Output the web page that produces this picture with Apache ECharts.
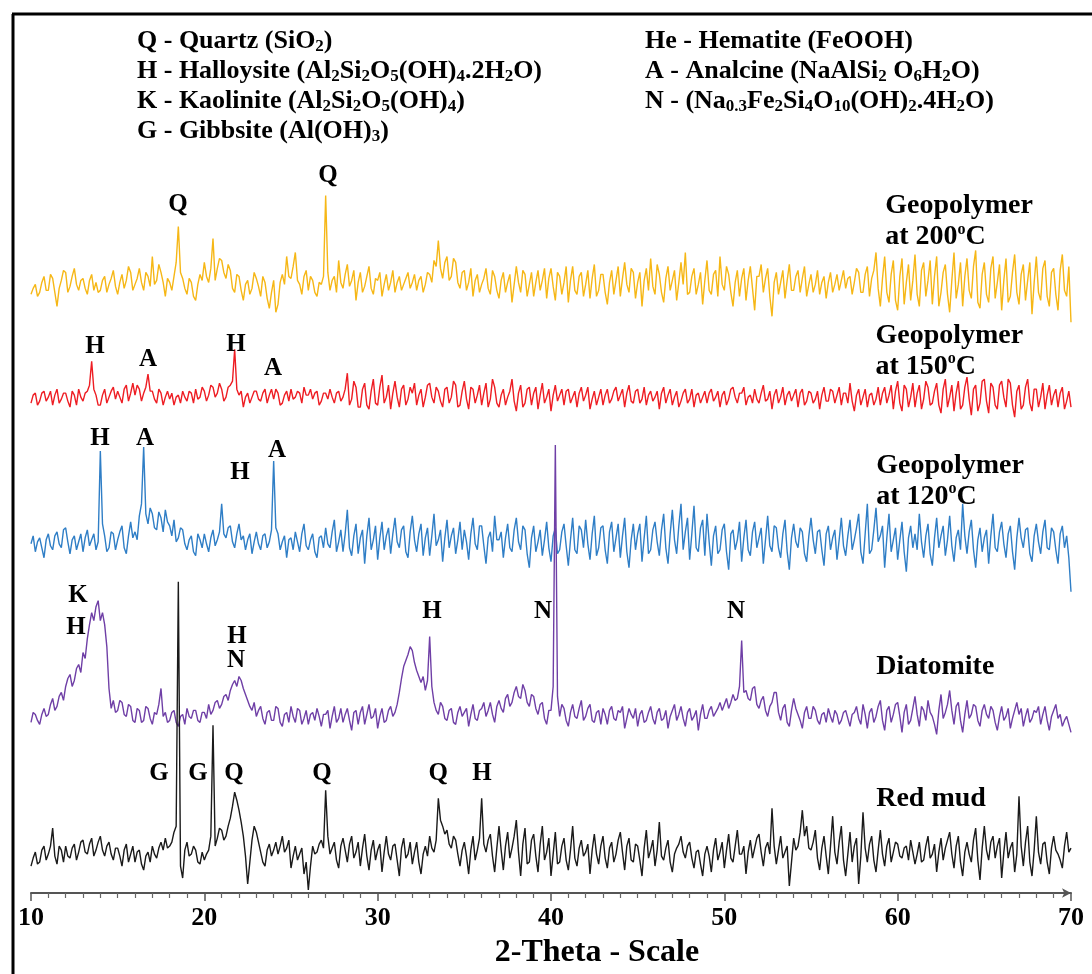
<!DOCTYPE html>
<html>
<head>
<meta charset="utf-8">
<script src="https://cdn.jsdelivr.net/npm/echarts/dist/echarts.min.js"></script>
<style>
  html, body { margin: 0; background: #fff; }
  #chart { width: 1092px; height: 974px; }
</style>
</head>
<body>
<div id="chart"></div>
<script>
// 2-theta scan: 10..70 deg, 0.125 deg step
const thetaStart = 10;
const thetaStep = 0.125;

// stacking offsets of each pattern (arbitrary intensity units)
const base200 = 608;
const base150 = 495;
const base120 = 350;
const baseDiatomite = 177;
const baseRedMud = 37;

// intensities, relative to each offset (one row per degree)
const geo200 = [
  -8, -2, 2, -10, -6, 4, 10, -4,
  -4, 12, 8, -6, -20, -2, 6, 16,
  14, -6, 0, 10, 18, 2, -4, 6,
  8, -2, -8, 6, 12, -4, 4, -6,
  -4, 6, 10, -6, 2, 8, 16, 0,
  -8, 4, 12, -2, 6, 20, 14, -4,
  2, 8, 18, 4, -4, 14, 10, 0,
  30, 2, 6, 22, 14, 4, -10, 8,
  4, -4, 10, 24, 60, 14, 8, -2,
  -8, 8, 4, -10, -14, 2, 12, 6,
  24, 10, 4, 18, 48, 6, 18, 28,
  26, 14, 8, 22, 16, -2, -6, 12,
  10, -4, -14, 2, 6, -8, -2, 14,
  8, 0, -10, 10, 4, -12, -22, -6,
  6, -26, -18, 4, 12, 2, 30, 10,
  8, 20, 34, 6, 2, -8, 10, 16,
  -4, 10, 6, -6, -10, 4, 2, 10,
  91, 14, -4, 6, 10, -6, 26, 4,
  -2, 12, 22, 0, 6, 16, -14, 4,
  14, -6, 0, 10, 20, -2, -8, 8,
  6, 14, -10, 2, 12, -4, 4, 16,
  -6, 4, 10, -4, 2, 8, 14, -2,
  4, 12, -4, 6, 10, -6, 2, 14,
  12, 4, 26, 20, 46, 18, 8, 24,
  30, 6, 10, 28, 24, 4, -2, 14,
  16, -4, 4, 18, -10, 6, 12, -6,
  2, 8, 18, -2, -8, 16, 10, -4,
  -12, 6, 14, -6, 4, 12, -16, 2,
  20, 4, -6, 16, 12, -10, 2, 14,
  -10, 4, 16, -4, 6, 18, -12, 8,
  18, 0, -14, 14, 10, -8, 4, 20,
  -16, 6, 20, -4, -8, 10, 14, -10,
  2, 16, -12, 8, 22, -10, -4, 12,
  12, -6, -18, 4, 16, -8, 6, 20,
  -10, 8, 24, 2, -6, 18, 14, -12,
  4, 14, -20, 6, 18, -4, 28, 0,
  -8, 22, 12, -6, -16, 8, 20, -4,
  6, 16, -14, 4, 24, 2, 34, -8,
  -6, 10, 18, -8, 2, 14, -18, 6,
  26, -4, -8, 12, 16, -10, 30, 2,
  -4, 20, 12, -6, -20, 4, 16, -10,
  8, 18, -14, 6, 20, -2, -24, 10,
  10, 22, -6, 8, 18, -10, -30, 4,
  14, -8, 4, 16, -12, 6, 22, -4,
  -4, 10, 16, -6, 8, 20, -10, 2,
  12, -6, 2, 16, -8, 4, 10, -12,
  4, 14, -6, 2, 12, -4, 6, 16,
  -2, 8, 10, -8, 4, 18, 14, -6,
  -6, 12, 20, -10, 8, 16, 34, -2,
  -20, 8, 30, -6, -16, 12, 26, -14,
  -24, 10, 28, -18, 4, 22, -14, 6,
  32, -8, -20, 16, 24, -10, 6, 26,
  -18, 10, 30, -20, -6, 14, 22, -8,
  -26, 6, 34, -12, 2, 24, -20, 10,
  28, -4, -12, 20, 36, -16, -22, 12,
  24, -8, -16, 18, 30, -12, 4, 22,
  -24, 6, 28, -16, -10, 14, 32, -6,
  -18, 12, 22, -14, 6, 24, -28, 4,
  30, -6, -14, 18, 26, -10, -20, 14,
  18, -8, -24, 16, 32, -4, -10, 20,
  -36
];

const geo150 = [
  -4, 4, 6, -6, -2, 6, 8, -2,
  2, 8, -6, 4, 10, -4, 0, 6,
  6, -2, -8, 8, 4, -6, 10, 2,
  -2, 6, 8, 14, 38, 10, 4, -6,
  -6, 4, 10, -4, 2, 8, 12, 0,
  8, 2, -4, 10, 14, -2, 6, 16,
  4, 14, 10, -2, 6, 12, 25, 8,
  8, 0, -4, 10, 6, -6, 2, 8,
  0, 6, -6, 2, 4, -4, 8, 2,
  -2, 8, 6, -4, 10, 0, 2, 12,
  8, -2, 4, 14, 12, 2, 6, 16,
  10, -2, 2, 12, 14, 18, 50, 10,
  4, 8, -8, 2, 6, -4, 2, 8,
  8, 0, -2, 6, 10, -4, 4, 10,
  0, 10, 6, -6, -4, 4, 8, -2,
  10, 0, 2, 8, 6, -4, 12, 4,
  4, 10, 0, 6, 8, -6, -2, 6,
  6, 0, 10, 2, -4, 6, 8, -2,
  2, 10, 26, -6, 0, 18, 12, -8,
  -8, 10, 16, -6, -10, 8, 20, -4,
  -6, 12, 24, -4, 2, 14, -10, 6,
  18, 2, -8, 10, 14, -6, 0, 12,
  6, 16, -6, 4, 10, -8, 2, 14,
  16, 2, -4, 12, 8, -2, -8, 10,
  12, -4, 2, 18, 14, -8, -6, 8,
  18, 0, -10, 12, 10, -4, 4, 14,
  -6, 6, 16, -8, 0, 20, 12, -4,
  -8, 4, 10, -6, 2, 8, 20, -2,
  -12, 6, 14, -8, -4, 10, 12, -6,
  6, 12, -10, 4, 16, -4, 2, 10,
  -12, 4, 14, -2, 4, 10, -6, 8,
  10, -4, 2, 8, -8, 6, 12, -2,
  4, 12, -10, 0, 8, -6, 2, 10,
  -6, 4, 10, -4, 0, 8, 12, -2,
  4, 10, -8, 6, 14, -2, -4, 8,
  10, -4, 0, 12, -6, 4, 8, -2,
  2, 8, -10, 6, 12, -4, 4, 10,
  -6, 2, 8, -8, -2, 6, 10, -4,
  0, 10, -8, 4, 6, -4, 2, 8,
  -4, 6, 10, -2, 2, 8, -8, 4,
  8, -6, 0, 10, 12, 2, -4, 6,
  6, 12, -6, 2, 4, -4, 10, 0,
  -4, 6, 14, -2, 0, 8, -10, 4,
  10, -4, 2, 12, -6, 4, 8, -2,
  4, 10, -8, 6, 10, -6, -2, 8,
  6, -4, 0, 8, -10, 4, 12, -2,
  -2, 10, 8, -4, 4, 12, -6, 6,
  6, -4, 16, -2, -12, 4, 10, -6,
  2, 10, -8, 4, 6, -6, 0, 12,
  -6, 6, 12, -4, 4, 14, -10, 8,
  18, -4, -12, 14, 10, -8, 2, 16,
  -8, 6, 14, -10, 0, 18, 12, -6,
  -4, 8, 16, -6, -14, 10, 20, -8,
  2, 14, -12, 6, 18, -10, -6, 12,
  22, 0, -16, 10, 14, -12, -4, 18,
  20, -2, -14, 16, 12, -6, -10, 14,
  18, 2, -8, 20, 16, -6, -18, 8,
  14, -10, -6, 12, 20, -4, -12, 10,
  10, -8, 2, 16, -10, 4, 14, -6,
  4, 10, -8, 6, 12, -10, -2, 8,
  -8
];

const geo120 = [
  0, 8, -8, 2, 6, -4, -14, 4,
  10, -2, -6, 8, 12, 0, -4, 14,
  16, 2, -10, 4, 8, -6, 2, 10,
  -8, 6, 14, -2, 4, 10, -6, 2,
  93, 20, 8, -8, -4, 12, 10, -6,
  4, 12, 18, -4, -10, 8, 22, 6,
  12, 4, 28, 40, 97, 30, 20, 36,
  30, 16, 14, 32, 26, 12, 34, 22,
  18, 8, 24, 2, 6, 16, 14, 0,
  -6, 4, 8, -8, -12, 10, 4, -4,
  10, 0, -8, 6, 14, -2, 4, 12,
  40, 10, 6, 16, 18, 2, -4, 10,
  20, 4, 8, -6, 4, 10, -10, 2,
  12, 0, -6, 8, 10, -4, 2, 14,
  83, 16, 10, -6, 2, 8, -14, 4,
  6, -6, 12, 2, -8, 10, 20, -2,
  -6, 4, 10, -8, -14, 6, 8, -4,
  16, 0, -4, 12, 24, -8, 2, 14,
  -8, 10, 34, -4, -12, 8, 20, -10,
  6, 14, -20, 8, 26, -6, 4, 18,
  -16, 6, 22, -6, 8, 16, -10, 10,
  26, 2, -4, 14, 18, -8, -14, 12,
  28, 4, -8, 10, 20, -12, 6, 16,
  -12, 8, 30, -2, 4, 14, -18, 6,
  24, -4, 8, 16, -10, 4, 22, -6,
  14, 2, -16, 10, 26, 0, -6, 18,
  18, -2, -20, 6, 12, -8, 28, 4,
  4, 12, -14, 6, 20, -4, -8, 14,
  26, 2, -6, 18, 14, -10, -24, 6,
  18, -8, 2, 14, -12, 4, 22, -4,
  -18, 8, 16, -10, -6, 12, 20, -2,
  -22, 4, 26, -6, -10, 18, 14, -4,
  24, 0, -16, 10, 28, -12, -4, 16,
  18, -6, -20, 12, 22, -8, 6, 20,
  -14, 8, 26, -8, -24, 4, 20, -6,
  10, 20, -18, 6, 28, -10, -6, 14,
  22, 2, -12, 14, 30, -4, -20, 10,
  34, 4, -10, 18, 40, -6, 12, 26,
  -16, 10, 38, -4, -8, 16, 24, -12,
  30, 2, -22, 8, 18, -10, -6, 14,
  20, -8, -26, 10, 14, -6, 4, 22,
  -18, 6, 24, -6, -12, 12, 22, -4,
  6, 16, -20, 4, 28, -2, -8, 18,
  16, -4, -14, 10, 24, -8, -26, 6,
  20, 2, -4, 16, 12, -10, -18, 8,
  26, 4, -10, 12, 14, -6, -22, 10,
  18, -6, 6, 14, -16, 4, 26, -2,
  -12, 8, 24, -6, 4, 16, 30, -8,
  -20, 10, 40, -10, -6, 14, 36, 2,
  8, 18, -24, 6, 30, -8, 4, 16,
  -16, 4, 22, -8, -28, 6, 18, -4,
  10, -6, 30, 2, -14, 8, 20, -10,
  -22, 6, 26, -4, 8, 18, -12, 4,
  28, -2, -18, 6, 14, -6, 40, 8,
  -10, 12, 24, -6, -24, 4, 16, -8,
  6, 14, -20, 8, 30, -4, -8, 12,
  22, 0, -14, 10, 18, -8, -26, 6,
  26, 6, -4, 14, 16, -10, -18, 8,
  20, 2, -10, 12, 24, -4, -6, 16,
  12, -6, -20, 10, 18, -4, 8, -14,
  -48
];

const diatomite = [
  -6, 4, 2, -4, -8, 2, 8, 0,
  2, 12, 18, 6, 10, 20, 24, 16,
  30, 38, 42, 30, 36, 48, 52, 44,
  64, 58, 78, 92, 104, 96, 110, 116,
  96, 104, 92, 70, 28, 8, 16, 4,
  6, 16, 14, 2, 0, 12, 10, -4,
  -6, 8, 6, -6, -4, 10, 8, -2,
  -8, 4, 2, 12, 28, 0, 4, -6,
  -4, 4, 6, -6, -10, 0, 2, -8,
  8, 0, -2, 6, 6, -4, -6, 4,
  4, -2, 12, 2, 6, 14, 16, 8,
  12, 20, 22, 16, 26, 32, 36, 30,
  40, 36, 28, 22, 16, 10, 6, 14,
  0, 6, 10, -2, -8, 4, 6, -4,
  -4, 10, 8, -6, -10, 2, 4, -6,
  10, 0, -6, 8, 6, -8, -2, 6,
  -8, 2, 4, -4, 8, 0, -10, 2,
  2, 6, -12, 0, 10, -6, -2, 8,
  -6, 2, 8, -4, -14, 4, 6, -8,
  4, 10, -8, 2, 12, -2, 0, 8,
  -12, 0, 8, -6, -4, 6, 10, 0,
  4, 12, 24, 38, 50, 56, 62, 70,
  66, 54, 46, 40, 34, 40, 26, 36,
  80, 30, 14, 6, 2, 14, 10, -2,
  -4, 6, 8, -6, -8, 4, 10, 0,
  4, 8, -10, 2, 12, -2, -4, 6,
  8, 14, 0, 6, 14, 2, -6, 10,
  16, 8, 4, 18, 22, 10, 14, 24,
  30, 20, 18, 32, 26, 14, 10, 22,
  20, 8, 2, 12, 14, -2, -8, 6,
  6, 30, 272, 20, 0, 12, 8, -4,
  -10, 4, 12, 0, -2, 8, 16, -4,
  0, 8, 12, -4, -6, 4, 6, -8,
  8, 2, -8, 6, 10, -2, -4, 6,
  4, 10, -12, -2, 8, 2, -2, 8,
  -10, 2, 6, -6, -4, 4, 10, -2,
  -8, 4, 8, -4, -2, 6, -12, 0,
  6, 12, -4, 2, 10, -2, -10, 4,
  8, -4, 0, 6, -14, 2, 12, -2,
  -2, 6, 10, 0, 4, 8, 14, 6,
  12, 18, 8, 14, 22, 16, 18, 30,
  76, 24, 26, 18, 16, 28, 30, 12,
  8, 16, 20, 6, 0, 10, 14, 24,
  24, 4, -4, 8, 12, -6, -10, 6,
  18, 8, 2, -4, -12, 4, 10, -2,
  -2, 10, 6, -4, -8, 2, 4, -6,
  8, 0, -6, 6, 2, -8, -4, 4,
  6, -2, -10, 2, 4, 10, -2, -8,
  12, 2, -12, 4, 8, -6, 0, 10,
  16, -4, -14, 6, 10, -6, 2, 12,
  14, 0, -16, 4, 12, -8, -4, 8,
  20, 2, -10, 10, 6, -4, 16, 4,
  0, -8, -18, 6, 22, -2, 4, 12,
  26, 6, -8, 10, 14, -4, -16, 2,
  16, -2, 2, 12, 10, -4, -10, 6,
  12, 2, -2, 10, 6, -6, -14, 0,
  10, -4, 0, 8, -12, -2, 6, 14,
  2, 8, -10, 0, 8, -6, -2, 6,
  4, 10, -8, 2, 10, -4, -14, 0,
  6, 12, -2, 2, -10, -4, 0, -8,
  -16
];

const redMud = [
  -10, -2, 4, -8, -6, 6, 10, -4,
  2, 10, 28, 0, -8, 10, 6, -6,
  10, 0, -2, 8, 12, -4, 4, 14,
  16, 4, 2, 12, 18, 0, 6, 14,
  20, 6, 0, 10, 14, 2, -4, 8,
  8, 0, -10, 6, 12, -6, 2, 10,
  -6, 4, 6, -8, -14, 0, 4, -6,
  10, 2, -2, 8, 14, 6, 18, 8,
  10, 14, 24, 30, 275, -10, -22, 6,
  14, 0, 2, 10, 6, -6, -8, 4,
  -4, 2, 6, 20, 131, 10, 18, 28,
  26, 16, 20, 30, 38, 50, 64, 56,
  46, 34, 20, 0, -28, -6, 16, 30,
  24, 14, 4, -6, -10, 6, 12, 0,
  6, 14, 2, 10, 20, 4, 8, 16,
  -12, 0, 10, -4, 2, 8, -18, -6,
  -34, -10, 10, 2, 4, 12, 16, 8,
  66, 20, 2, 8, 14, -4, -12, 10,
  18, 6, -6, 12, 20, -2, 4, 14,
  -10, 8, 22, 0, -14, 6, 16, -4,
  6, 12, -16, 4, 20, 2, -4, 10,
  12, -4, -20, 8, 18, -2, 2, 14,
  -8, 4, 14, -6, -18, 2, 10, 0,
  20, 8, 4, 16, 58, 36, 30, 22,
  26, 12, 8, 20, 16, 2, -10, 6,
  14, 0, -18, 6, 20, -4, 6, 18,
  58, 12, 4, 16, 22, 0, -16, 8,
  30, 6, -14, 10, 24, -2, 8, 20,
  36, 4, -20, 12, 28, -8, -6, 16,
  22, 0, -16, 12, 30, -4, 4, 18,
  -20, 2, 24, -8, -6, 10, 18, -4,
  -14, 6, 30, -2, -10, 8, 16, 0,
  4, 12, -18, 6, 22, 2, -8, 10,
  20, -2, -12, 8, 14, -6, 2, 16,
  24, 4, -14, 10, 18, -4, -6, 12,
  10, -4, -20, 8, 26, -2, 6, 16,
  -10, 6, 34, 0, -4, 8, 16, -6,
  -16, 2, 8, 12, 20, 4, -2, 10,
  14, -2, -12, 4, 6, -8, -20, 2,
  10, 0, -16, 6, 18, -4, 4, 14,
  -12, 6, 22, -2, -6, 10, 26, 2,
  2, 10, -18, 4, 16, -2, 8, 18,
  22, 4, -10, 8, 14, 2, 48, 10,
  -8, 6, 20, -2, 4, 10, -30, -6,
  18, 6, 10, 24, 46, 20, 30, 8,
  6, 14, 26, -2, -14, 8, 20, 0,
  -18, 10, 40, 4, -8, 14, 30, -4,
  -20, 2, 24, -6, 10, 18, -28, 0,
  44, 8, -6, 12, 20, -4, -16, 6,
  26, 2, -10, 10, 18, -6, 4, 14,
  12, 0, -2, 8, 10, -4, 16, 4,
  -8, 2, 14, -6, -4, 10, 20, -2,
  2, 12, -16, 4, 18, -4, 8, 16,
  24, 2, -12, 10, 20, -6, -20, 4,
  14, 2, -6, 16, 28, -4, -24, 8,
  30, 6, -4, 14, 20, -2, 10, 18,
  -22, 4, 24, -2, 8, 14, -16, 2,
  60, 10, -10, 14, 30, -6, -20, 6,
  40, 4, -8, 12, 14, -6, -18, 8,
  20, 6, 2, -4, -12, 10, 24, 4,
  8
];

// peak letters: [letter, 2-theta, height]
const peakLetters = [
  ['Q', 18.48, 690], ['Q', 27.14, 719],
  ['H', 13.69, 548], ['A', 16.75, 535], ['H', 21.83, 550], ['A', 23.96, 526],
  ['H', 13.98, 455], ['A', 16.58, 455], ['H', 22.06, 421], ['A', 24.2, 443],
  ['K', 12.71, 298], ['H', 12.6, 266], ['H', 21.89, 257], ['N', 21.83, 233],
  ['H', 33.14, 282], ['N', 39.54, 282], ['N', 50.68, 282],
  ['G', 17.39, 120], ['G', 19.64, 120], ['Q', 21.71, 120], ['Q', 26.79, 120],
  ['Q', 33.49, 120], ['H', 36.02, 120]
];

// sample names placed at the right of each pattern
const sampleNames = ['Geopolymer\nat 200', 'Geopolymer\nat 150', 'Geopolymer\nat 120', 'Diatomite', 'Red mud'];
const sampleX = [59.28, 58.72, 58.76, 58.76, 58.76];
const sampleY = [673, 543, 413, 227, 94];

const legendLeft = [
  '{b|Q - Quartz (SiO}{s|2}{b|)}',
  '{b|H - Halloysite (Al}{s|2}{b|Si}{s|2}{b|O}{s|5}{b|(OH)}{s|4}{b|.2H}{s|2}{b|O)}',
  '{b|K - Kaolinite (Al}{s|2}{b|Si}{s|2}{b|O}{s|5}{b|(OH)}{s|4}{b|)}',
  '{b|G - Gibbsite (Al(OH)}{s|3}{b|)}'
];
const legendRight = [
  '{b|He - Hematite (FeOOH)}',
  '{b|A - Analcine (NaAlSi}{s|2}{b| O}{s|6}{b|H}{s|2}{b|O)}',
  '{b|N - (Na}{s|0.3}{b|Fe}{s|2}{b|Si}{s|4}{b|O}{s|10}{b|(OH)}{s|2}{b|.4H}{s|2}{b|O)}'
];

const serif = "'Liberation Serif', 'Times New Roman', 'DejaVu Serif', serif";

function toPoints(vals, base) {
  return vals.map((v, i) => [thetaStart + i * thetaStep, base + v]);
}

const legendRich = {
  b: { fontFamily: serif, fontWeight: 'bold', fontSize: 26, lineHeight: 28, color: '#000' },
  s: { fontFamily: serif, fontWeight: 'bold', fontSize: 17, lineHeight: 17, color: '#000', verticalAlign: 'bottom' }
};

const titles = [];
legendLeft.forEach((t, i) => {
  titles.push({ text: t, left: 137, top: 27 + i * 30, padding: 0, textStyle: { rich: legendRich } });
});
legendRight.forEach((t, i) => {
  titles.push({ text: t, left: 645, top: 27 + i * 30, padding: 0, textStyle: { rich: legendRich } });
});

function lineSeries(name, vals, base, color) {
  return {
    name: name,
    type: 'line',
    data: toPoints(vals, base),
    showSymbol: false,
    silent: true,
    lineStyle: { color: color, width: 1.4 },
    itemStyle: { color: color }
  };
}

const chart = echarts.init(document.getElementById('chart'));
chart.setOption({
  animation: false,
  backgroundColor: '#fff',
  title: titles,
  grid: { left: 31, right: 21, top: 14, bottom: 79 },
  xAxis: {
    type: 'value',
    min: 10,
    max: 70,
    interval: 10,
    axisLine: {
      show: true, onZero: false,
      symbol: ['none', 'arrow'], symbolSize: [7, 9],
      lineStyle: { color: '#555', width: 2 }
    },
    axisTick: { show: true, length: 8, lineStyle: { color: '#555', width: 1.5 } },
    minorTick: { show: true, splitNumber: 10, length: 5, lineStyle: { color: '#666', width: 1.2 } },
    splitLine: { show: false },
    axisLabel: { fontFamily: serif, fontWeight: 'bold', fontSize: 26, color: '#000', margin: 12 },
    name: '2-Theta - Scale',
    nameLocation: 'middle',
    nameGap: 44,
    nameTextStyle: { fontFamily: serif, fontWeight: 'bold', fontSize: 32, color: '#000', padding: [0, 0, 0, 92] }
  },
  yAxis: { type: 'value', min: 0, max: 881, show: false },
  series: [
    lineSeries('Geopolymer at 200°C', geo200, base200, '#f6b716'),
    lineSeries('Geopolymer at 150°C', geo150, base150, '#ee1d23'),
    lineSeries('Geopolymer at 120°C', geo120, base120, '#2f7ec6'),
    lineSeries('Diatomite', diatomite, baseDiatomite, '#6f3fa6'),
    lineSeries('Red mud', redMud, baseRedMud, '#1a1a1a'),
    {
      type: 'scatter',
      silent: true,
      clip: false,
      symbolSize: 0,
      z: 10,
      itemStyle: { opacity: 1 },
      data: peakLetters.map(p => ({ name: p[0], value: [p[1], p[2]] })),
      label: {
        show: true, position: 'inside', formatter: '{b}',
        fontFamily: serif, fontWeight: 'bold', fontSize: 25, color: '#000'
      }
    },
    {
      type: 'scatter',
      silent: true,
      clip: false,
      symbolSize: 0,
      z: 10,
      itemStyle: { opacity: 1 },
      data: sampleNames.map((n, i) => ({ name: n, value: [sampleX[i], sampleY[i]] })),
      label: {
        show: true, position: 'right', distance: 0,
        formatter: p => {
          const lines = p.name.split('\n');
          if (lines.length === 1) return '{t|' + lines[0] + '}';
          return '{t|' + lines[0] + '}\n{t|' + lines[1] + '}{o|o}{t|C}';
        },
        rich: {
          t: { fontFamily: serif, fontWeight: 'bold', fontSize: 28, lineHeight: 31, color: '#000' },
          o: { fontFamily: serif, fontWeight: 'bold', fontSize: 16, lineHeight: 16, color: '#000', verticalAlign: 'top' }
        }
      }
    }
  ],
  graphic: [
    { type: 'line', shape: { x1: 12, y1: 14, x2: 1092, y2: 14 }, style: { stroke: '#000', lineWidth: 3 } },
    { type: 'line', shape: { x1: 13, y1: 14, x2: 13, y2: 974 }, style: { stroke: '#000', lineWidth: 3 } }
  ]
});
</script>
</body>
</html>
